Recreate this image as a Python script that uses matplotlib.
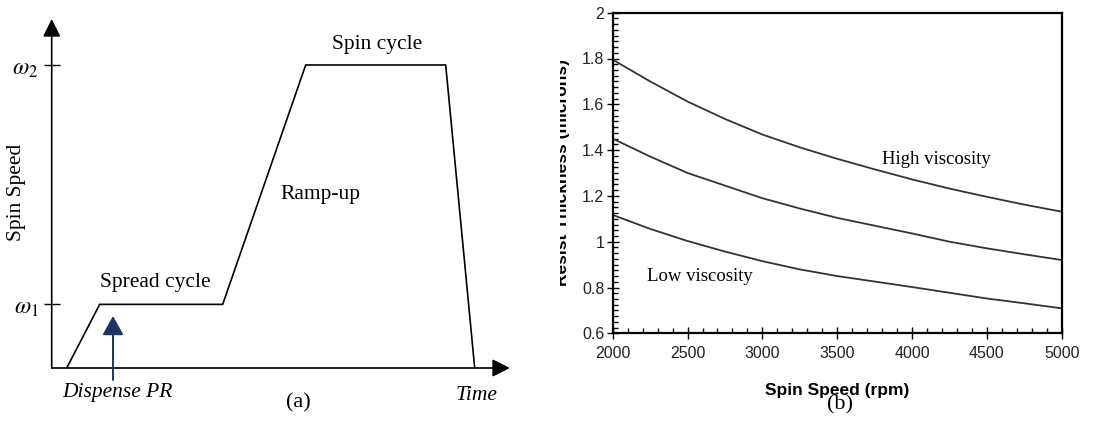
import matplotlib
matplotlib.use("Agg")
import matplotlib.pyplot as plt
from matplotlib.ticker import MultipleLocator, FixedLocator
from matplotlib.transforms import Bbox

plt.rcParams['mathtext.fontset'] = 'stix'

W, H = 1107, 421

# ---- (a) spin profile ----
profile_time = [15, 48, 171, 254, 394, 423]
omega1, omega2 = 0.21, 1.0
profile_speed = [0, omega1, omega1, omega2, omega2, 0]
omega_labels = [r'$\omega_1$', r'$\omega_2$']

# ---- (b) thickness vs spin speed ----
spin_rpm = [2000, 2250, 2500, 2750, 3000, 3250, 3500, 3750, 4000, 4250, 4500, 4750, 5000]
high_visc = [1.795, 1.700, 1.612, 1.536, 1.468, 1.412, 1.362, 1.316, 1.272, 1.232, 1.196, 1.162, 1.131]
mid_visc = [1.450, 1.372, 1.300, 1.245, 1.190, 1.145, 1.104, 1.070, 1.036, 1.000, 0.971, 0.945, 0.920]
low_visc = [1.117, 1.056, 1.003, 0.957, 0.915, 0.879, 0.850, 0.826, 0.802, 0.777, 0.752, 0.731, 0.709]
x_ticks = [2000, 2500, 3000, 3500, 4000, 4500, 5000]
y_ticks = [0.6, 0.8, 1.0, 1.2, 1.4, 1.6, 1.8, 2.0]
y_ticklabels = ['0.6', '0.8', '1', '1.2', '1.4', '1.6', '1.8', '2']

def fx(px):
    return px / W

def fy(py):
    return 1 - py / H

fig = plt.figure(figsize=(W / 100, H / 100), dpi=100)

serif = 'Liberation Serif'
sans = 'Liberation Sans'

# ---------- panel (a) ----------
x0, x1, y0, y1 = 51.7, 510, 368, 19
axa = fig.add_axes([fx(x0), fy(y0), fx(x1) - fx(x0), fy(y1) - fy(y0)])
axa.set_xlim(0, x1 - x0)
axa.set_ylim(0, (y0 - y1) / (y0 - 65))
axa.plot(profile_time, profile_speed, color='black', lw=1.2, solid_joinstyle='miter')
for s in axa.spines.values():
    s.set_visible(False)
axa.set_xticks([])
axa.set_yticks([omega1, omega2])
axa.set_yticklabels(omega_labels, fontsize=17)
axa.tick_params(axis='y', direction='inout', length=11, width=1.0, pad=4)
axa.patch.set_alpha(0)
arrow = dict(arrowstyle='-|>,head_length=0.4,head_width=0.2', lw=1.2, color='black',
             mutation_scale=27, shrinkA=0, shrinkB=0)
axa.annotate('', xy=(1, 0), xytext=(0, 0), xycoords='axes fraction', arrowprops=arrow)
axa.annotate('', xy=(0, 1), xytext=(0, 0), xycoords='axes fraction', arrowprops=arrow)

# dispense arrow
axa.annotate('', xy=(113 - x0, (y0 - 316) / (y0 - 65)), xytext=(113 - x0, (y0 - 380) / (y0 - 65)),
             arrowprops=dict(arrowstyle='-|>,head_length=0.45,head_width=0.25', lw=1.4,
                             color='#1c3466', mutation_scale=26, shrinkA=0, shrinkB=0),
             annotation_clip=False)

fig.text(fx(17), fy(192), 'Spin Speed', rotation=90, ha='center', va='center',
         family=serif, fontsize=15.5)
fig.text(fx(155), fy(282), 'Spread cycle', ha='center', va='center', family=serif, fontsize=15.5)
fig.text(fx(320), fy(194), 'Ramp-up', ha='center', va='center', family=serif, fontsize=15.5)
fig.text(fx(377), fy(45), 'Spin cycle', ha='center', va='center', family=serif, fontsize=15.5)
fig.text(fx(117), fy(393), 'Dispense PR', ha='center', va='center', family=serif,
         style='italic', fontsize=15.5)
fig.text(fx(477), fy(395), 'Time', ha='center', va='center', family=serif,
         style='italic', fontsize=15.5)
fig.text(fx(298), fy(403), '(a)', ha='center', va='center', family=serif, fontsize=16)

# ---------- panel (b) ----------
bx0, bx1, by0, by1 = 612.7, 1061.7, 333.3, 12.7
axb = fig.add_axes([fx(bx0), fy(by0), fx(bx1) - fx(bx0), fy(by1) - fy(by0)])
for ys in (high_visc, mid_visc, low_visc):
    axb.plot(spin_rpm, ys, color='#333333', lw=1.3)
axb.set_xlim(2000, 5000)
axb.set_ylim(0.6, 2.0)
axb.xaxis.set_major_locator(FixedLocator(x_ticks))
axb.yaxis.set_major_locator(FixedLocator(y_ticks))
axb.set_yticklabels(y_ticklabels)
axb.xaxis.set_minor_locator(MultipleLocator(100))
axb.yaxis.set_minor_locator(MultipleLocator(0.025))
axb.tick_params(which='major', direction='inout', length=8, width=1.0, labelsize=11.5,
                labelcolor='#222222')
axb.tick_params(which='minor', direction='in', length=3.5, width=1.0)
axb.tick_params(axis='x', pad=5)
axb.tick_params(axis='y', pad=2)
for side in ('left', 'bottom', 'right', 'top'):
    axb.spines[side].set_linewidth(1.6)
for lab in axb.get_xticklabels() + axb.get_yticklabels():
    lab.set_family(sans)

axb.text(4165, 1.36, 'High viscosity', ha='center', va='center', family=serif, fontsize=13.5)
axb.text(2583, 0.85, 'Low viscosity', ha='center', va='center', family=serif, fontsize=13.5)

fig.text(fx(837), fy(390), 'Spin Speed (rpm)', ha='center', va='center', family=sans,
         fontweight='bold', fontsize=12.5)
fig.text(fx(840), fy(405), '(b)', ha='center', va='center', family=serif, fontsize=16)
ylab = fig.text(fx(563), fy(172), 'Resist Thickness (microns)', rotation=90, ha='center',
                va='center', family=sans, fontweight='bold', fontsize=12.5)
ylab.set_clip_box(Bbox.from_extents(560, 0, W, H))
ylab.set_clip_on(True)

fig.savefig('out.png', dpi=100)
